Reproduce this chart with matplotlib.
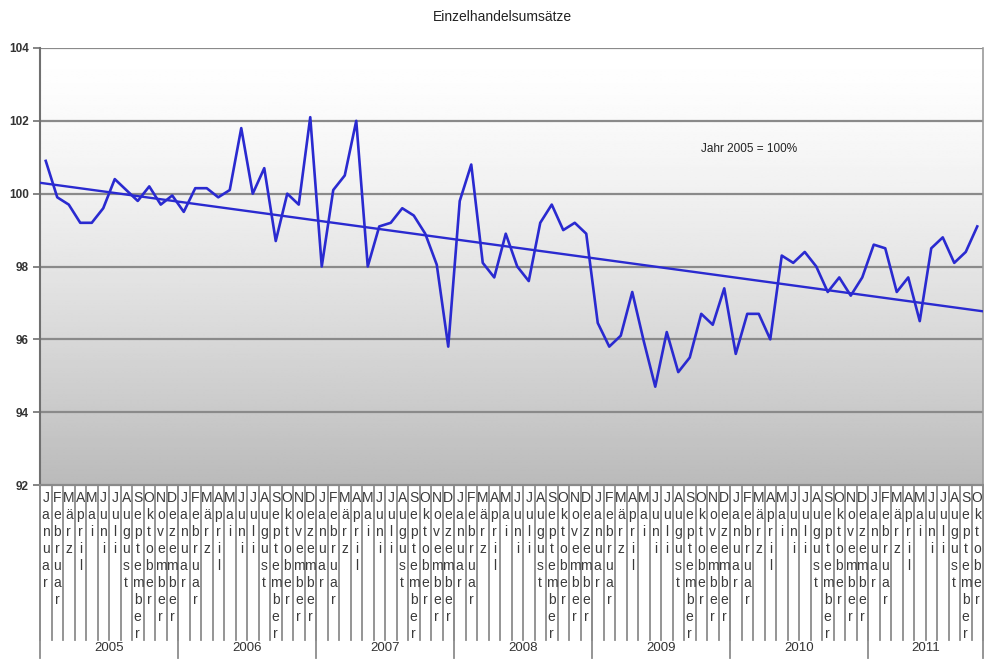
import numpy as np
import matplotlib
matplotlib.use("Agg")
import matplotlib.pyplot as plt
from matplotlib import transforms
from matplotlib.colors import LinearSegmentedColormap

plt.rcParams['font.family'] = ['Liberation Sans', 'DejaVu Sans']

# ---------------- data ----------------
years = ["2005", "2006", "2007", "2008", "2009", "2010", "2011"]
month_names = ["Januar", "Februar", "März", "April", "Mai", "Juni", "Juli",
               "August", "September", "Oktober", "November", "Dezember"]
values_2005 = [100.9, 99.9, 99.7, 99.2, 99.2, 99.6, 100.4, 100.1, 99.8, 100.2, 99.7, 99.95]
values_2006 = [99.5, 100.15, 100.15, 99.9, 100.1, 101.8, 100.0, 100.7, 98.7, 100.0, 99.7, 102.1]
values_2007 = [98.0, 100.1, 100.5, 102.0, 98.0, 99.1, 99.2, 99.6, 99.4, 98.9, 98.05, 95.8]
values_2008 = [99.8, 100.8, 98.1, 97.7, 98.9, 98.0, 97.6, 99.2, 99.7, 99.0, 99.2, 98.9]
values_2009 = [96.45, 95.8, 96.1, 97.3, 95.95, 94.7, 96.2, 95.1, 95.5, 96.7, 96.4, 97.4]
values_2010 = [95.6, 96.7, 96.7, 96.0, 98.3, 98.1, 98.4, 98.0, 97.3, 97.7, 97.2, 97.7]
values_2011 = [98.6, 98.5, 97.3, 97.7, 96.5, 98.5, 98.8, 98.1, 98.4, 99.1]

title = "Einzelhandelsumsätze"
note = "Jahr 2005 = 100%"
y_ticks = [92, 94, 96, 98, 100, 102, 104]

series = [values_2005, values_2006, values_2007, values_2008,
          values_2009, values_2010, values_2011]
values = np.concatenate([np.array(s, dtype=float) for s in series])
months = []
for s in series:
    for i in range(len(s)):
        months.append(month_names[i])
n = len(values)
x = np.arange(n)

# ---------------- figure ----------------
W, H = 984, 660
fig = plt.figure(figsize=(W / 100, H / 100), dpi=100)
L, R, T, B = 40, 983, 48, 485
ax = fig.add_axes([L / W, 1 - B / H, (R - L) / W, (B - T) / H])

# gradient background (white at top -> grey at bottom)
t = np.linspace(0, 1, 256)[:, None]
shade = 1.0 - 0.27 * t ** 1.4
grad = np.repeat(shade, 2, axis=1)
cmap = LinearSegmentedColormap.from_list("g", ["black", "white"])
ax.imshow(grad, extent=[-0.5, n - 0.5, 92, 104], origin='upper', aspect='auto', cmap=cmap,
          vmin=0, vmax=1, zorder=0, interpolation='bilinear')
ax.set_xlim(-0.5, n - 0.5)
ax.set_ylim(92, 104)

grid_col = "#8a8a8a"
for yt in y_ticks[1:]:
    ax.axhline(yt, color=grid_col, lw=1.6, zorder=1)

blue = "#2a2ad0"
ax.plot(x, values, color=blue, lw=1.9, zorder=3, solid_joinstyle='round')

# linear trend
coef = np.polyfit(x, values, 1)
xt = np.array([-0.5, n - 0.5])
ax.plot(xt, np.polyval(coef, xt), color=blue, lw=1.7, zorder=3)

for s in ["top", "bottom"]:
    ax.spines[s].set_visible(False)
ax.spines["left"].set_color("#707070")
ax.spines["left"].set_linewidth(1.5)
ax.spines["right"].set_color("#9a9a9a")
ax.spines["right"].set_linewidth(1.2)
ax.set_xticks([])
ax.set_yticks(y_ticks)
ax.set_yticklabels([str(v) for v in y_ticks], fontsize=8.5, fontweight='bold', color="#333333")
ax.tick_params(axis='y', length=5, width=1.2, color="#707070", pad=3)

ax.axhline(92, color="#8a8a8a", lw=1.6, zorder=4, clip_on=False)

# ---------------- category axis (stacked letters) ----------------
trans = transforms.blended_transform_factory(ax.transData, fig.transFigure)
def fy(py):
    return 1 - py / H

sep_col = "#8c8c8c"
for b in np.arange(n + 1) - 0.5:
    ax.plot([b, b], [fy(B), fy(640)], transform=trans, color=sep_col, lw=1.3, clip_on=False, zorder=2)

for i, name in enumerate(months):
    for k, ch in enumerate(name):
        ax.text(i, fy(502 + 17 * k), ch, transform=trans, ha='center', va='baseline',
                fontsize=10, color="#3a3a3a", clip_on=False)

start = 0
for y, s in zip(years, series):
    end = start + len(s)
    ax.plot([start - 0.5, start - 0.5], [fy(B), fy(658)], transform=trans, color=sep_col, lw=1.3, clip_on=False)
    ax.text((start + end - 1) / 2, fy(648), y, transform=trans, ha='center', va='center',
            fontsize=9.5, color="#333333")
    start = end
ax.plot([n - 0.5, n - 0.5], [fy(B), fy(658)], transform=trans, color=sep_col, lw=1.3, clip_on=False)

fig.text(502 / W, 1 - 17 / H, title, ha='center', va='center', fontsize=10, color="#222222")
fig.text(749 / W, 1 - 149 / H, note, ha='center', va='center', fontsize=8.5, color="#222222")

fig.savefig("out.png", dpi=100, facecolor="white")
